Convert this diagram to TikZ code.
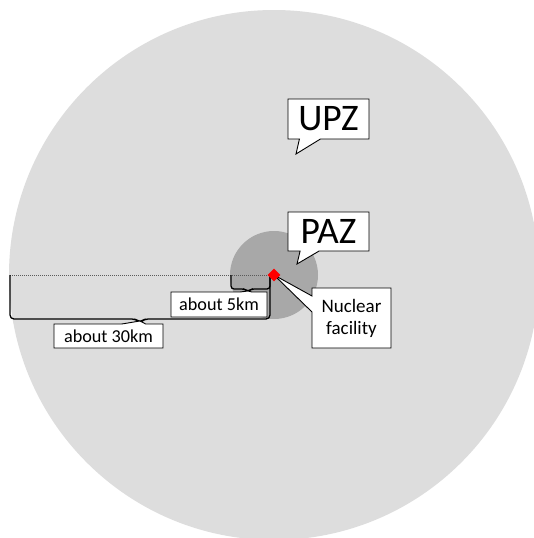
\documentclass[tikz,border=0pt]{standalone}
\usepackage{fontspec}
\setmainfont{Carlito}
\definecolor{UPZgray}{RGB}{221,221,221}
\definecolor{PAZgray}{RGB}{168,168,168}
\definecolor{DotGray}{RGB}{90,90,90}
\usetikzlibrary{shapes.geometric,shapes.callouts}

\begin{document}
\begin{tikzpicture}[x=1pt,y=-1pt,
  zone/.style={rectangle callout,draw=black,fill=white,line width=0.9pt,inner sep=0pt,align=center},
  brace/.style={draw=black,line width=1.3pt,rounded corners=4pt}]
  \useasboundingbox (0,0) rectangle (534,538);
  \clip (0,0) rectangle (534,538);
  \fill[white] (0,0) rectangle (534,538);
  % zones round the facility
  \coordinate (site) at (274,275);
  \fill[UPZgray] (site) circle[radius=265];
  \fill[PAZgray] (site) circle[radius=44];
  % distances
  \coordinate (edge30) at (10,275);
  \coordinate (edge5) at (231,275);
  \coordinate (arm) at (270,275);
  \draw[DotGray,line width=0.8pt,dash pattern=on 1pt off 1pt] (edge30) -- (site);
  \draw[brace] (edge30) -- (10,319) -- (136,319) -- (140,323) -- (144,319) -- (270,319) -- (arm);
  \draw[brace,rounded corners=3pt] (edge5) -- (231,289) -- (245,289) -- (248,292) -- (251,289) -- (270,289) -- (arm);
  % labels
  \node[zone,minimum width=81,minimum height=40,font=\fontsize{37.5}{44}\selectfont,callout pointer width=21,callout absolute pointer={(296,154)}] (upz) at (328.5,119) {UPZ};
  \node[zone,minimum width=81,minimum height=39,font=\fontsize{37.5}{44}\selectfont,callout pointer width=19,callout absolute pointer={(297,264)}] (paz) at (328.5,231.5) {PAZ};
  \node[zone,minimum width=79,minimum height=60,font=\fontsize{19}{22}\selectfont,callout pointer width=16,callout absolute pointer={(site)}] (facility) at (351.5,318) {Nuclear\\facility};
  \node[zone,minimum width=96,minimum height=25,font=\fontsize{18.2}{21}\selectfont,callout pointer width=12,callout absolute pointer={(248,291)}] (km5) at (219,304.5) {about 5km};
  \node[zone,minimum width=109,minimum height=24,font=\fontsize{18.2}{21}\selectfont,callout pointer width=24,callout absolute pointer={(140,321)}] (km30) at (108.5,336) {about 30km};
  % the facility itself
  \node[diamond,fill=red,inner sep=0pt,minimum size=13] (plant) at (site) {};
\end{tikzpicture}
\end{document}
